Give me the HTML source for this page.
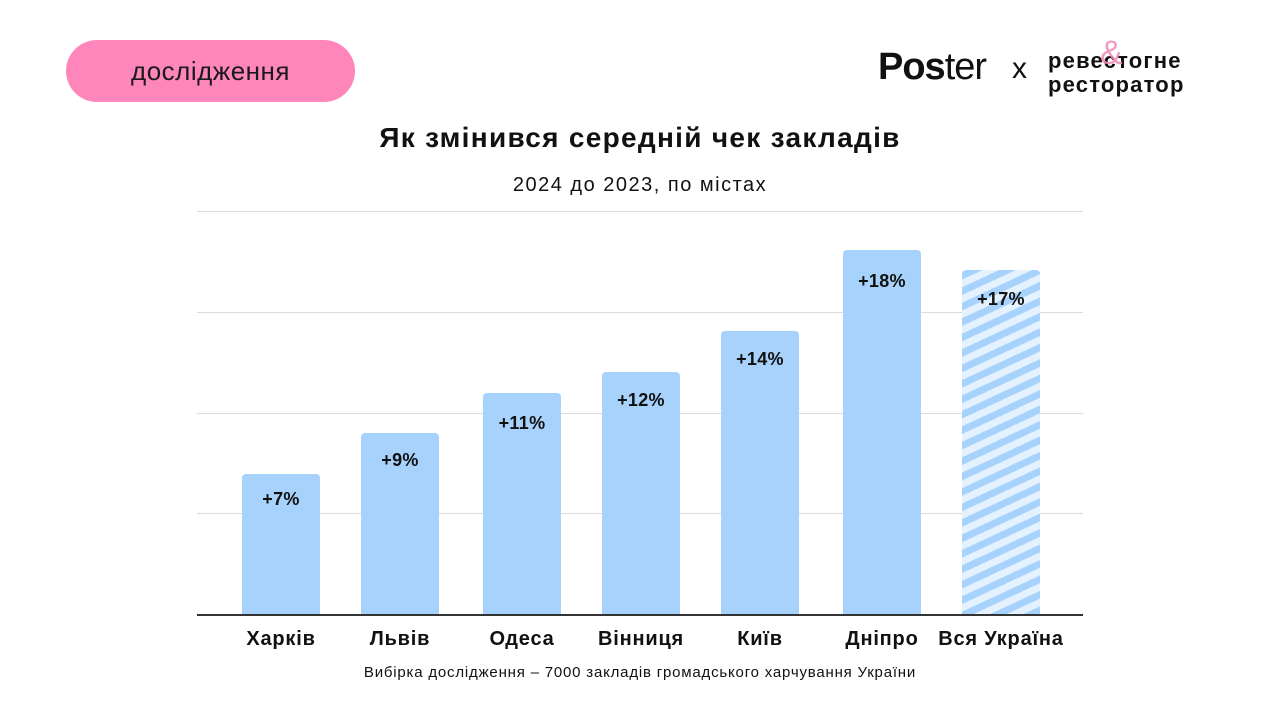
<!DOCTYPE html>
<html><head><meta charset="utf-8"><style>
body{margin:0;width:1280px;height:720px;background:#fff;font-family:"Liberation Sans","DejaVu Sans",sans-serif;position:relative;overflow:hidden;color:#111}
.pill{position:absolute;left:66px;top:40px;width:289px;height:62px;border-radius:31px;background:#ff86ba;font-size:26px;line-height:62px;text-align:center;color:#1a1a1a;letter-spacing:0.5px}
.t{position:absolute;left:0;width:1280px;text-align:center}
.bar{position:absolute;width:78px;background:#a7d2fb;border-radius:4px 4px 0 0}
.lab{position:absolute;width:78px;text-align:center;font-weight:bold;font-size:18px;letter-spacing:0.3px}
.x{position:absolute;width:140px;text-align:center;font-weight:bold;font-size:20px;top:628px;letter-spacing:0.8px}
.g{position:absolute;left:197px;width:886px;height:1px;background:#dcdcdc}
</style></head><body>
<div class="pill">дослідження</div>
<div style="position:absolute;left:878px;top:46px;font-size:38px;letter-spacing:-1px"><b>Pos</b>ter</div>
<div style="position:absolute;left:1012px;top:52px;font-size:30px">x</div>
<div style="position:absolute;left:1048px;top:49px;font-size:22px;font-weight:bold;line-height:24px;letter-spacing:1.2px">ревестогне<br>ресторатор</div>
<div style="position:absolute;left:1100px;top:34px;font-size:34px;color:#f08ab5;opacity:0.85">&amp;</div>
<div class="t" style="top:122px;font-size:28px;font-weight:bold;letter-spacing:1.3px">Як змінився середній чек закладів</div>
<div class="t" style="top:174px;font-size:20px;letter-spacing:1.5px">2024 до 2023, по містах</div>
<div class="g" style="top:211px"></div><div class="g" style="top:312px"></div><div class="g" style="top:413px"></div><div class="g" style="top:513px"></div>
<div class="g" style="top:614px;background:#333;height:1.5px"></div>
<div class="bar" style="left:242px;top:474px;height:140px"></div><div class="lab" style="left:242px;top:489px">+7%</div>
<div class="bar" style="left:361px;top:433px;height:181px"></div><div class="lab" style="left:361px;top:450px">+9%</div>
<div class="bar" style="left:483px;top:393px;height:221px"></div><div class="lab" style="left:483px;top:413px">+11%</div>
<div class="bar" style="left:602px;top:372px;height:242px"></div><div class="lab" style="left:602px;top:390px">+12%</div>
<div class="bar" style="left:721px;top:331px;height:283px"></div><div class="lab" style="left:721px;top:349px">+14%</div>
<div class="bar" style="left:843px;top:250px;height:364px"></div><div class="lab" style="left:843px;top:271px">+18%</div>
<div class="bar" style="left:962px;top:270px;height:344px;background:repeating-linear-gradient(-25deg,#a7d2fb 0 7px,#e4f1fe 7px 14px)"></div><div class="lab" style="left:962px;top:289px">+17%</div>
<div class="x" style="left:211px">Харків</div>
<div class="x" style="left:330px">Львів</div>
<div class="x" style="left:452px">Одеса</div>
<div class="x" style="left:571px">Вінниця</div>
<div class="x" style="left:690px">Київ</div>
<div class="x" style="left:812px">Дніпро</div>
<div class="x" style="left:921px;width:160px">Вся Україна</div>
<div class="t" style="top:664px;font-size:15px;letter-spacing:0.8px">Вибірка дослідження – 7000 закладів громадського харчування України</div>
</body></html>
